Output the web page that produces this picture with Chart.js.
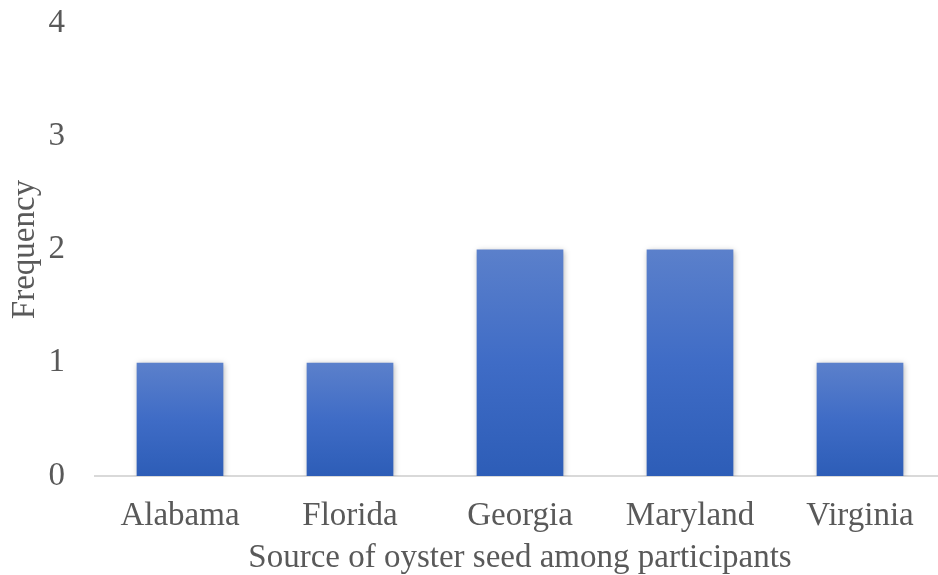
<!DOCTYPE html>
<html>
<head>
<meta charset="utf-8">
<script src="https://cdn.jsdelivr.net/npm/chart.js@4/dist/chart.umd.min.js"></script>
<style>
  html, body { margin: 0; padding: 0; background: #fff; overflow: hidden; }
  #wrap { width: 950px; height: 575px; }
</style>
</head>
<body>
<div id="wrap"><canvas id="chart" width="950" height="575"></canvas></div>
<script>
const states = ['Alabama', 'Florida', 'Georgia', 'Maryland', 'Virginia'];
const frequency = [1, 1, 2, 2, 1];
const yTicks = [0, 1, 2, 3, 4];

const FONT = { family: '"Liberation Serif", "Times New Roman", serif', size: 33 };
const GREY = '#595959';

// soft drop shadow around the bars
const barShadow = {
  id: 'barShadow',
  beforeDatasetsDraw(chart) {
    const ctx = chart.ctx;
    ctx.save();
    ctx.shadowColor = 'rgba(0,0,0,0.3)';
    ctx.shadowBlur = 6;
    ctx.shadowOffsetX = 1;
    ctx.shadowOffsetY = 1;
  },
  afterDatasetsDraw(chart) {
    chart.ctx.restore();
  }
};

// each bar gets its own top-to-bottom gradient
function barGradient(context) {
  const chart = context.chart;
  if (!chart.chartArea) return '#4472c4';
  const y = chart.scales.y;
  const top = y.getPixelForValue(context.raw);
  const bottom = y.getPixelForValue(0);
  const g = chart.ctx.createLinearGradient(0, top, 0, bottom);
  g.addColorStop(0, '#5b80cb');
  g.addColorStop(0.5, '#3f6cc6');
  g.addColorStop(1, '#2d5db7');
  return g;
}

new Chart(document.getElementById('chart'), {
  type: 'bar',
  data: {
    labels: states,
    datasets: [{
      label: 'Frequency',
      data: frequency,
      backgroundColor: barGradient,
      borderWidth: 0,
      categoryPercentage: 1,
      barPercentage: 0.51
    }]
  },
  options: {
    responsive: false,
    animation: false,
    layout: { padding: { top: 23, left: 6, right: 5, bottom: 0 } },
    plugins: {
      legend: { display: false },
      tooltip: { enabled: false }
    },
    scales: {
      x: {
        afterFit(axis) { axis.height = 99; },
        grid: { display: false, drawTicks: false },
        border: { color: '#d9d9d9', width: 2 },
        ticks: { font: FONT, color: GREY, padding: 21 },
        title: {
          display: true,
          text: 'Source of oyster seed among participants',
          font: FONT,
          color: GREY,
          padding: { top: 0, bottom: -3 }
        }
      },
      y: {
        min: 0,
        max: 4,
        afterFit(axis) {
          axis.width = 89;
          // labels may overhang the plot; keep the plot top where padding puts it
          axis.paddingTop = 0;
          axis.paddingBottom = 0;
        },
        afterBuildTicks(axis) {
          axis.ticks = yTicks.map(v => ({ value: v }));
        },
        grid: { display: false, drawTicks: false },
        border: { display: false },
        ticks: { font: FONT, color: GREY, padding: 30 },
        title: {
          display: true,
          text: 'Frequency',
          font: FONT,
          color: GREY,
          padding: { top: 0, bottom: 0 }
        }
      }
    }
  },
  plugins: [barShadow]
});
</script>
</body>
</html>
